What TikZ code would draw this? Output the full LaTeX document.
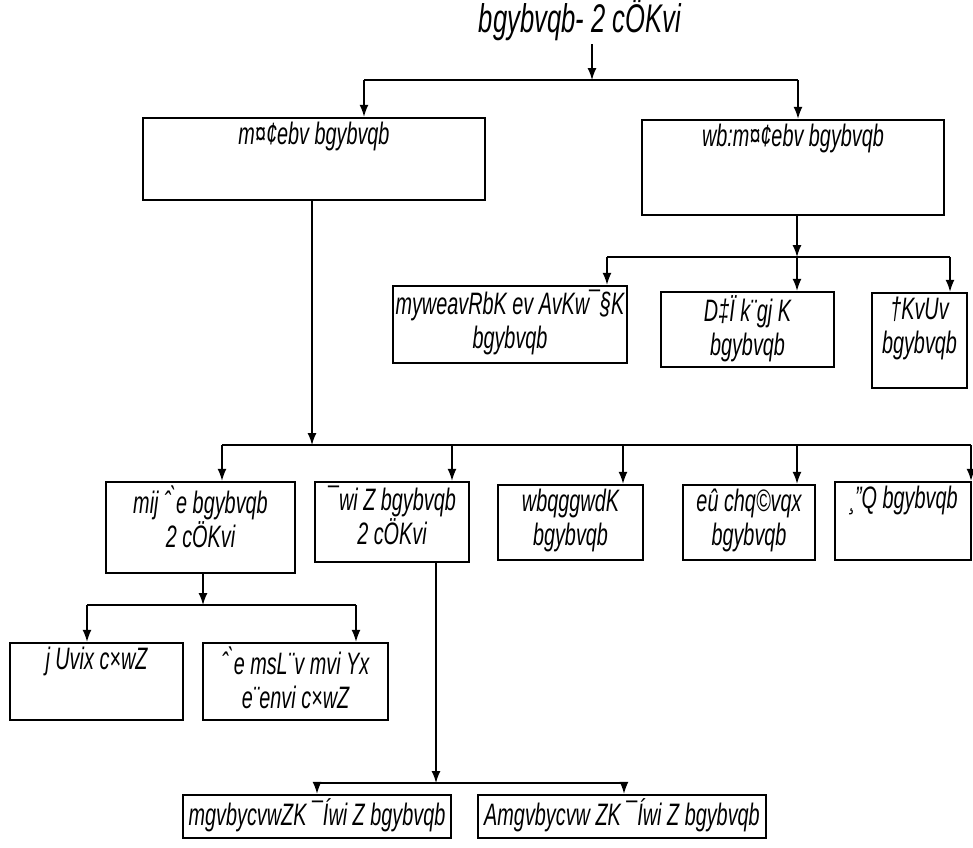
\documentclass[tikz,border=0pt]{standalone}
\usepackage{fontspec}
\newfontfamily\mjfont{Liberation Sans}[FakeStretch=0.64]
\usetikzlibrary{positioning, arrows.meta}

\begin{document}
\begin{tikzpicture}[x=1pt, y=-1pt, >={Latex[length=12pt,width=9pt]},
  conn/.style={line width=1.4pt},
  box/.style={draw, line width=2.4pt, inner sep=0pt},
  txt/.style={anchor=north, align=center, inner sep=5pt,
    font=\mjfont\itshape\fontsize{31}{34}\selectfont}]
  \useasboundingbox (0,0) rectangle (973,847);

  \node[font=\mjfont\itshape\fontsize{40}{46}\selectfont] (title) at (580,20) {bgybvqb- 2 cÖKvi};

  % first level
  \node[box, minimum width=342pt, minimum height=82pt,
    label={[txt]north:{m¤¢ebv bgybvqb}}] (prob) at (314,159) {};
  \node[box, minimum width=302pt, minimum height=95pt,
    label={[txt]north:{wb:m¤¢ebv bgybvqb}}] (nonprob) at (793,167.5) {};

  % non-probability kinds
  \node[box, minimum width=234pt, minimum height=77pt,
    label={[txt]north:{myweavRbK ev AvKw¯§K\\bgybvqb}}] (conv) at (510,324.5) {};
  \node[box, minimum width=173pt, minimum height=75pt,
    label={[txt]north:{D‡Ï k¨gj K\\bgybvqb}}] (purp) at (747.5,329.5) {};
  \node[box, minimum width=95pt, minimum height=95pt,
    label={[txt]north:{†KvUv\\bgybvqb}}] (quota) at (919.5,340.5) {};

  % probability kinds
  \node[box, minimum width=189pt, minimum height=91pt,
    label={[txt]north:{mij ˆ\`{}e bgybvqb\\2 cÖKvi}}] (simple) at (200.5,527.5) {};
  \node[box, minimum width=154pt, minimum height=80pt,
    label={[txt]north:{¯wi Z bgybvqb\\2 cÖKvi}}] (strat) at (392,522) {};
  \node[box, minimum width=145pt, minimum height=75pt,
    label={[txt]north:{wbqggwdK\\bgybvqb}}] (syst) at (570.5,522.5) {};
  \node[box, minimum width=132pt, minimum height=75pt,
    label={[txt]north:{eû chq©vqx\\bgybvqb}}] (multi) at (749,522.5) {};
  \node[box, minimum width=136pt, minimum height=78pt,
    label={[txt]north:{¸”Q bgybvqb}}] (clus) at (903,521) {};

  % simple random kinds
  \node[box, minimum width=173pt, minimum height=77pt,
    label={[txt]north:{j Uvix c×wZ}}] (lottery) at (96.5,681.5) {};
  \node[box, minimum width=185pt, minimum height=77pt,
    label={[txt]north:{ˆ\`{}e msL¨v mvi Yx\\e¨envi c×wZ}}] (table) at (295.5,681.5) {};

  % stratified kinds
  \node[box, minimum width=268pt, minimum height=43pt,
    label={[txt]north:{mgvbycvwZK ¯Íwi Z bgybvqb}}] (prop) at (317,816.5) {};
  \node[box, minimum width=288pt, minimum height=43pt,
    label={[txt]north:{Amgvbycvw ZK ¯Íwi Z bgybvqb}}] (nonprop) at (622,816.5) {};

  % connectors
  \coordinate (t0) at (592,80);
  \coordinate (b0l) at (364,80);
  \coordinate (b0r) at (798,80);
  \draw[conn,->] (t0 |- title.south) -- (t0);
  \draw[conn] (b0l) -- (b0r);
  \draw[conn,->] (b0l) -- (b0l |- prob.north);
  \draw[conn,->] (b0r) -- (b0r |- nonprob.north);

  \coordinate (n0) at (797,257);
  \coordinate (n1) at (607,257);
  \coordinate (n3) at (950,257);
  \draw[conn,->] (n0 |- nonprob.south) -- (n0);
  \draw[conn] (n1) -- (n3);
  \draw[conn,->] (n1) -- (n1 |- conv.north);
  \draw[conn,->] (n0) -- (n0 |- purp.north);
  \draw[conn,->] (n3) -- (n3 |- quota.north);

  \coordinate (p0) at (312,445);
  \coordinate (p1) at (222,445);
  \coordinate (p2) at (452,445);
  \coordinate (p3) at (623,445);
  \coordinate (p4) at (797,445);
  \coordinate (p5) at (971,445);
  \draw[conn,->] (p0 |- prob.south) -- (p0);
  \draw[conn] (p1) -- (p5);
  \foreach \c/\b in {p1/simple, p2/strat, p3/syst, p4/multi, p5/clus}
    \draw[conn,->] (\c) -- (\c |- \b.north);

  \coordinate (s0) at (203,605);
  \coordinate (s1) at (87,605);
  \coordinate (s2) at (356,605);
  \draw[conn,->] (s0 |- simple.south) -- (s0);
  \draw[conn] (s1) -- (s2);
  \draw[conn,->] (s1) -- (s1 |- lottery.north);
  \draw[conn,->] (s2) -- (s2 |- table.north);

  \coordinate (r0) at (436,783);
  \coordinate (r1) at (317,783);
  \coordinate (r2) at (624,783);
  \draw[conn,->] (r0 |- strat.south) -- (r0);
  \draw[conn] (r1) -- (r2);
  \draw[conn,->] (r1) -- (r1 |- prop.north);
  \draw[conn,->] (r2) -- (r2 |- nonprop.north);
\end{tikzpicture}
\end{document}
